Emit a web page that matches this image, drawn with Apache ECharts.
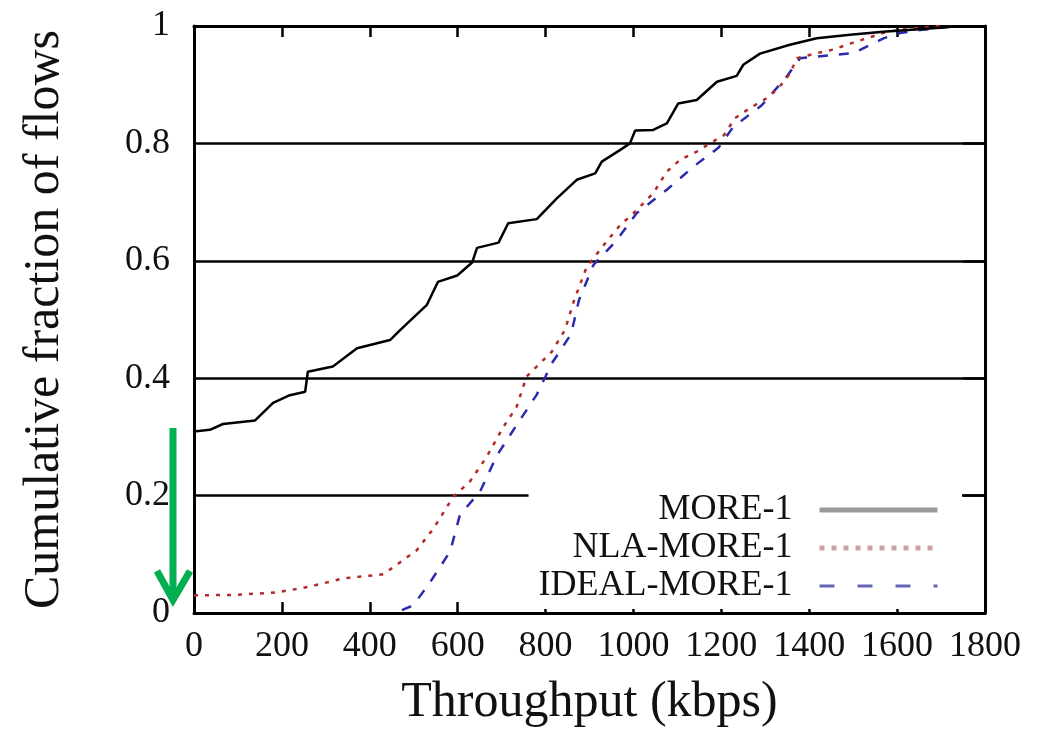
<!DOCTYPE html>
<html>
<head>
<meta charset="utf-8">
<script src="https://cdn.jsdelivr.net/npm/echarts@6/dist/echarts.min.js"></script>
<style>
  html, body { margin: 0; padding: 0; background: #fff; }
  #chart { width: 1046px; height: 735px; }
</style>
</head>
<body>
<div id="chart"></div>
<script>
// values
var xTicks = [0, 200, 400, 600, 800, 1000, 1200, 1400, 1600, 1800]
var yTicks = [0, 0.2, 0.4, 0.6, 0.8, 1]

var moreX = [0, 36, 66, 139, 180, 218, 253, 259, 316, 371, 446, 469, 530, 555, 599, 633, 644, 693, 715, 780,
  825, 871, 913, 928, 970, 992, 1004, 1045, 1076, 1102, 1144, 1190, 1235, 1250, 1288, 1356, 1417, 1493, 1568, 1682, 1745]
var moreY = [0.309, 0.312, 0.322, 0.328, 0.358, 0.371, 0.377, 0.411, 0.420, 0.451, 0.465, 0.482, 0.525, 0.564, 0.575, 0.597, 0.622, 0.631, 0.664, 0.671,
  0.706, 0.738, 0.749, 0.769, 0.789, 0.800, 0.822, 0.823, 0.834, 0.868, 0.874, 0.905, 0.915, 0.934, 0.953, 0.968, 0.979, 0.985, 0.990, 0.996, 1.0]

var nlaX = [0, 97, 188, 264, 340, 431, 461, 507, 545, 590, 628, 666, 704, 734, 757, 814, 844, 866, 894, 939,
  970, 1000, 1045, 1076, 1106, 1144, 1174, 1206, 1231, 1265, 1303, 1330, 1356, 1372, 1413, 1455, 1493, 1531, 1576, 1614, 1667, 1700]
var nlaY = [0.030, 0.031, 0.035, 0.045, 0.059, 0.066, 0.082, 0.107, 0.144, 0.198, 0.224, 0.266, 0.317, 0.351, 0.403, 0.445, 0.482, 0.535, 0.590, 0.633,
  0.661, 0.681, 0.715, 0.752, 0.772, 0.786, 0.800, 0.814, 0.843, 0.860, 0.877, 0.894, 0.919, 0.945, 0.953, 0.960, 0.970, 0.979, 0.990, 0.994, 0.998, 1.0]

var idealX = [473, 499, 537, 583, 605, 651, 689, 734, 780, 814, 858, 876, 909, 962, 1007, 1076, 1136, 1194, 1227, 1292,
  1349, 1379, 1417, 1501, 1569, 1607, 1652, 1736]
var idealY = [0.005, 0.013, 0.052, 0.105, 0.167, 0.207, 0.268, 0.320, 0.372, 0.425, 0.475, 0.533, 0.593, 0.635, 0.681, 0.721, 0.760, 0.793, 0.828, 0.865,
  0.914, 0.945, 0.948, 0.954, 0.979, 0.988, 0.993, 1.0]

var seriesNames = ['MORE-1', 'NLA-MORE-1', 'IDEAL-MORE-1']

function pairs(xs, ys) {
  return xs.map(function(x, i) { return [x, ys[i]] })
}

var font = 'Liberation Serif'
var ink = '#111'

var chart = echarts.init(document.getElementById('chart'))
var option = {
  animation: false,
  backgroundColor: '#fff',
  grid: { left: 194, right: 61, top: 26, bottom: 122 },
  legend: {
    orient: 'vertical',
    align: 'right',
    right: 84,
    top: 487,
    padding: [4, 22, 4, 10],
    backgroundColor: '#fff',
    itemGap: 0,
    itemWidth: 118,
    itemHeight: 14,
    selectedMode: false,
    textStyle: {
      fontFamily: font,
      fontSize: 36,
      lineHeight: 38,
      color: ink,
      padding: [0, 22, 0, 0]
    },
    data: [
      { name: seriesNames[0], itemStyle: { opacity: 0 }, lineStyle: { color: '#9a9a9a', width: 5, type: 'solid' } },
      { name: seriesNames[1], itemStyle: { opacity: 0 }, lineStyle: { color: '#c9a4a4', width: 5, type: [5, 7] } },
      { name: seriesNames[2], itemStyle: { opacity: 0 }, lineStyle: { color: '#6565b5', width: 3, type: [15, 23] } }
    ]
  },
  xAxis: [
    {
      type: 'value',
      min: xTicks[0],
      max: xTicks[xTicks.length - 1],
      interval: 200,
      name: 'Throughput (kbps)',
      nameLocation: 'middle',
      nameGap: 65,
      nameTextStyle: { fontFamily: font, fontSize: 50, color: ink },
      axisLine: { show: true, onZero: false, lineStyle: { color: '#000', width: 3 } },
      axisTick: { show: true, inside: true, length: 11, lineStyle: { color: '#000', width: 2.5 } },
      axisLabel: {
        fontFamily: font, fontSize: 36, color: ink, margin: 16,
        formatter: function(v) { return String(v) }
      },
      splitLine: { show: false }
    },
    {
      type: 'value',
      position: 'top',
      min: xTicks[0],
      max: xTicks[xTicks.length - 1],
      interval: 200,
      axisLine: { show: true, onZero: false, lineStyle: { color: '#000', width: 3 } },
      axisTick: { show: true, inside: true, length: 11, lineStyle: { color: '#000', width: 2.5 } },
      axisLabel: { show: false },
      splitLine: { show: false }
    }
  ],
  yAxis: [
    {
      type: 'value',
      min: yTicks[0],
      max: yTicks[yTicks.length - 1],
      interval: 0.2,
      name: 'Cumulative fraction of flows',
      nameLocation: 'middle',
      nameGap: 124,
      nameTextStyle: { fontFamily: font, fontSize: 50, color: ink },
      axisLine: { show: true, onZero: false, lineStyle: { color: '#000', width: 3 } },
      axisTick: { show: false },
      axisLabel: { fontFamily: font, fontSize: 36, color: ink, margin: 24 },
      splitLine: { show: true, lineStyle: { color: '#000', width: 2.5 } }
    },
    {
      type: 'value',
      position: 'right',
      min: yTicks[0],
      max: yTicks[yTicks.length - 1],
      interval: 0.2,
      axisLine: { show: true, onZero: false, lineStyle: { color: '#000', width: 3 } },
      axisTick: { show: true, inside: true, length: 22, lineStyle: { color: '#000', width: 2.5 } },
      axisLabel: { show: false },
      splitLine: { show: false }
    }
  ],
  series: [
    {
      name: seriesNames[0],
      type: 'line',
      symbol: 'none',
      data: pairs(moreX, moreY),
      lineStyle: { color: '#000', width: 2.5 },
      itemStyle: { color: '#000' },
      z: 5
    },
    {
      name: seriesNames[1],
      type: 'line',
      symbol: 'none',
      data: pairs(nlaX, nlaY),
      lineStyle: { color: '#b22a2a', width: 2.5, type: [4, 7] },
      itemStyle: { color: '#b22a2a' },
      z: 4
    },
    {
      name: seriesNames[2],
      type: 'line',
      symbol: 'none',
      data: pairs(idealX, idealY),
      lineStyle: { color: '#2b2bb0', width: 2.5, type: [10, 11] },
      itemStyle: { color: '#2b2bb0' },
      z: 3
    }
  ],
  // green annotation arrow at the left of the y axis
  graphic: [
    {
      type: 'line',
      shape: { x1: 173, y1: 428, x2: 173, y2: 598 },
      style: { stroke: '#00b050', lineWidth: 7 }
    },
    {
      type: 'polyline',
      shape: { points: [[157, 571], [173, 600], [190, 571]] },
      style: { stroke: '#00b050', lineWidth: 7, fill: null, lineJoin: 'miter' }
    }
  ]
}
chart.setOption(option)
</script>
</body>
</html>
